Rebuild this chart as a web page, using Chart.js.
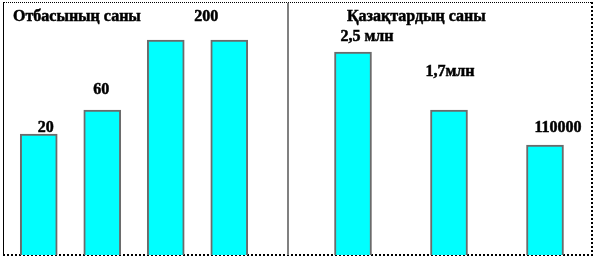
<!DOCTYPE html>
<html>
<head>
<meta charset="utf-8">
<script src="https://cdn.jsdelivr.net/npm/chart.js@4"></script>
<style>
  body { margin: 0; background: #fff; }
  #wrap { position: relative; width: 596px; height: 258px; background: #fff; overflow: hidden; }
  #frame { position: absolute; left: 3px; top: 2px; width: 587px; height: 251px;
    border-top: 1px dotted #000; border-left: 1px solid #000;
    border-right: 2px dotted #000; border-bottom: 2px dotted #000; }
  #divider { position: absolute; left: 287px; top: 3px; width: 2px; height: 252px; background: #808080; }
  canvas { position: absolute; top: 0; }
</style>
</head>
<body>
<div id="wrap">
  <div id="frame"></div>
  <div id="divider"></div>
  <canvas id="familyChart" width="287" height="258" style="left:0"></canvas>
  <canvas id="kazakhChart" width="307" height="258" style="left:289px"></canvas>
</div>
<script>
// left panel - number of families
var familyHeading = "Отбасының саны";
var familyCategories = ["1", "2", "3", "4"];
var familyBarHeight = [121, 145, 215, 215];
var familyValueLabels = ["20", "60", "", "200"];

// right panel - number of Kazakhs
var kazakhHeading = "Қазақтардың саны";
var kazakhCategories = ["1", "2", "3"];
var kazakhBarHeight = [203, 145, 110];
var kazakhValueLabels = ["2,5 млн", "1,7млн", "110000"];

// where each value label sits relative to its bar top
var familyLabelOffsets = [{ dx: 7, dy: 6 }, { dx: -1, dy: 20 }, null, { dx: -23, dy: 23 }];
var kazakhLabelOffsets = [{ dx: 14, dy: 15 }, { dx: 1, dy: 38 }, { dx: 13, dy: 17 }];

function textPlugin(heading, headingDx, labels, offsets) {
  return {
    id: "texts",
    afterDatasetsDraw: function (chart) {
      var ctx = chart.ctx;
      var bars = chart.getDatasetMeta(0).data;
      ctx.save();
      ctx.font = "bold 16px 'Liberation Serif'";
      ctx.fillStyle = "#000";
      ctx.strokeStyle = "#000";
      ctx.lineWidth = 0.5;
      ctx.textBaseline = "middle";
      ctx.textAlign = "left";
      ctx.fillText(heading, chart.chartArea.left + headingDx, 17);
      ctx.strokeText(heading, chart.chartArea.left + headingDx, 17);
      ctx.textAlign = "center";
      for (let i = 0; i < labels.length; i++) {
        if (!labels[i]) continue;
        let x = bars[i].x + offsets[i].dx;
        let y = bars[i].y - offsets[i].dy;
        ctx.fillText(labels[i], x, y);
        ctx.strokeText(labels[i], x, y);
      }
      ctx.restore();
    },
  };
}

function makeChart(id, categories, heights, padding, plugin) {
  return new Chart(document.getElementById(id), {
    type: "bar",
    data: {
      labels: categories,
      datasets: [
        {
          data: heights,
          backgroundColor: "#00FFFF",
          borderColor: "#6b6b6b",
          borderWidth: 2,
          barThickness: 37,
        },
      ],
    },
    options: {
      responsive: false,
      animation: false,
      layout: { padding: padding },
      plugins: { legend: { display: false }, tooltip: { enabled: false } },
      scales: {
        x: { display: false },
        y: { display: false, min: 0, max: 255 },
      },
    },
    plugins: [plugin],
  });
}

makeChart("familyChart", familyCategories, familyBarHeight,
  { left: 7, right: 26, top: 0, bottom: 3 },
  textPlugin(familyHeading, 6, familyValueLabels, familyLabelOffsets));

makeChart("kazakhChart", kazakhCategories, kazakhBarHeight,
  { left: 16, right: 3, top: 0, bottom: 3 },
  textPlugin(kazakhHeading, 42, kazakhValueLabels, kazakhLabelOffsets));
</script>
</body>
</html>
